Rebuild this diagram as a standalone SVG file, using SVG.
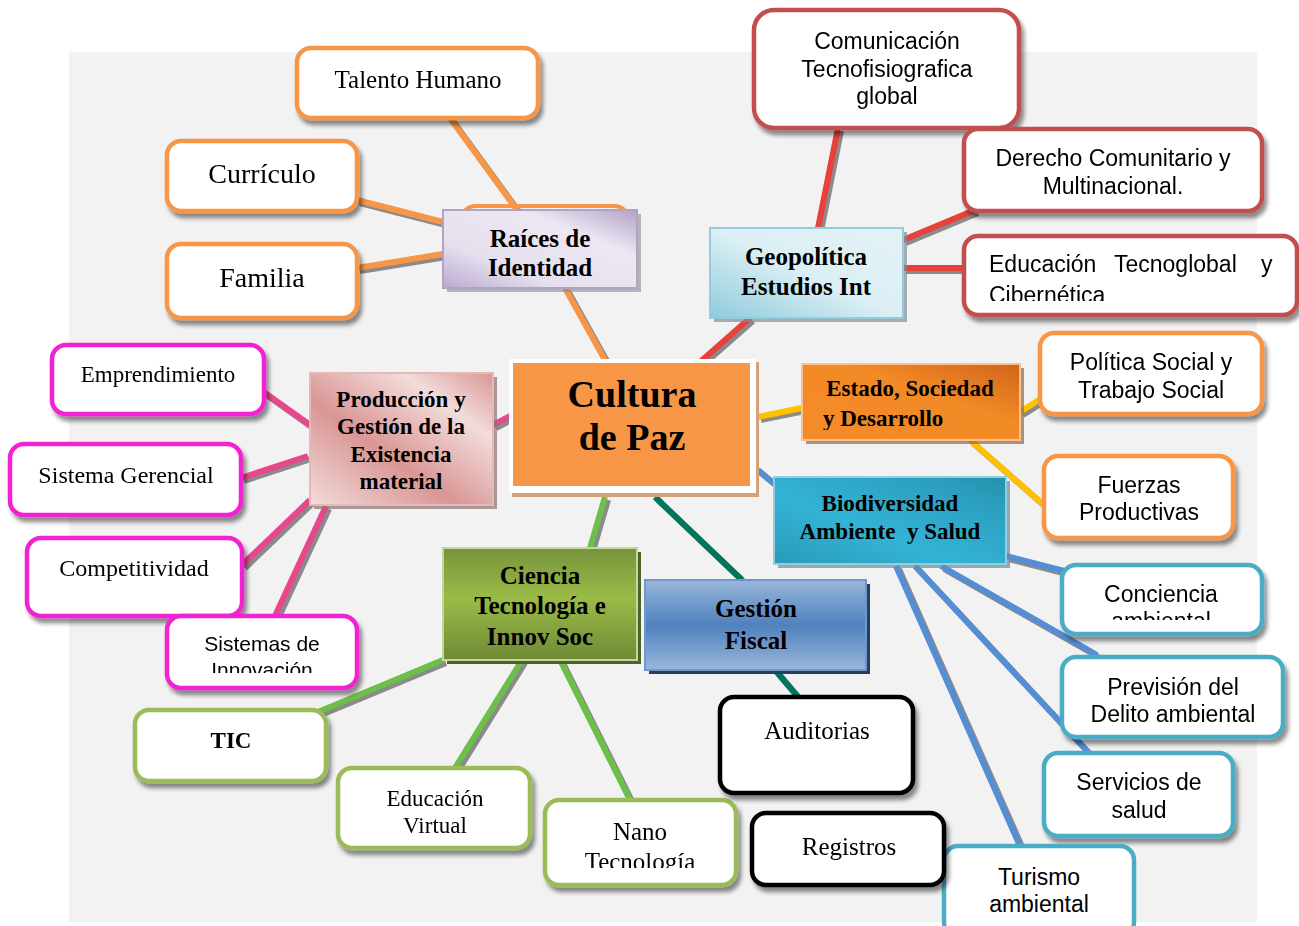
<svg xmlns="http://www.w3.org/2000/svg" width="1299" height="926" viewBox="0 0 1299 926">
<style>
.sh{stroke:#8a8a8a;stroke-width:6;fill:none;stroke-linecap:butt}
.ln{stroke-width:6;fill:none;stroke-linecap:butt}
.o{stroke:#F79646}.r{stroke:#E8403A}.y{stroke:#FFC000}.b{stroke:#558ED5}.p{stroke:#E9478C}.g{stroke:#6CC04A}.t{stroke:#00765A}
.box{fill:#fff;stroke-width:4.5}
.bo{stroke:#F79646}.br{stroke:#C0504D}.bm{stroke:#F224D2}.bg{stroke:#9BBB59}.bk{stroke:#000}.bc{stroke:#4BACC6}
.serif{font-family:"Liberation Serif","Times New Roman",serif;fill:#000}
.sans{font-family:"Liberation Sans",Arial,sans-serif;fill:#000}
.bold{font-weight:bold}
</style>
<defs>
<filter id="ds" x="-10%" y="-10%" width="125%" height="130%">
<feDropShadow dx="3" dy="5" stdDeviation="2" flood-color="#000" flood-opacity="0.45"/>
</filter>
<linearGradient id="gLav" x1="0" y1="1" x2="1" y2="0"><stop offset="0" stop-color="#b9a9cf"/><stop offset="0.3" stop-color="#e6e0ee"/><stop offset="0.7" stop-color="#ece7f2"/><stop offset="1" stop-color="#b3a2c7"/></linearGradient>
<linearGradient id="gGeo" x1="0" y1="1" x2="1" y2="0"><stop offset="0" stop-color="#8ecbdb"/><stop offset="0.5" stop-color="#dbeff5"/><stop offset="1" stop-color="#e4f2f6"/></linearGradient>
<linearGradient id="gEst" x1="0" y1="1" x2="1" y2="0"><stop offset="0" stop-color="#f58a2a"/><stop offset="0.6" stop-color="#f28a26"/><stop offset="1" stop-color="#d0641a"/></linearGradient>
<linearGradient id="gBio" x1="0" y1="1" x2="1" y2="0"><stop offset="0" stop-color="#2a9ab8"/><stop offset="0.4" stop-color="#33b3d6"/><stop offset="0.8" stop-color="#2c9fbf"/><stop offset="1" stop-color="#2590ae"/></linearGradient>
<linearGradient id="gProd" x1="0" y1="1" x2="1" y2="0"><stop offset="0" stop-color="#f2dcdb"/><stop offset="0.4" stop-color="#d99694"/><stop offset="0.75" stop-color="#f2dcdb"/><stop offset="1" stop-color="#d99694"/></linearGradient>
<linearGradient id="gCie" x1="0" y1="0" x2="0" y2="1"><stop offset="0" stop-color="#77933c"/><stop offset="0.45" stop-color="#9bbb47"/><stop offset="1" stop-color="#6f8a35"/></linearGradient>
<linearGradient id="gGes" x1="0" y1="0" x2="0" y2="1"><stop offset="0" stop-color="#9ab7dc"/><stop offset="0.5" stop-color="#4f81bd"/><stop offset="1" stop-color="#9ab7dc"/></linearGradient>
<clipPath id="cEdu"><rect x="966" y="238" width="329" height="63"/></clipPath>
<clipPath id="cEst"><rect x="802" y="364" width="218" height="66"/></clipPath>
<clipPath id="cPol"><rect x="1040" y="333" width="222" height="70"/></clipPath>
<clipPath id="cCon"><rect x="1062" y="565" width="200" height="55"/></clipPath>
<clipPath id="cSis"><rect x="167" y="616" width="190" height="57"/></clipPath>
<clipPath id="cEdv"><rect x="338" y="768" width="192" height="68"/></clipPath>
<clipPath id="cNan"><rect x="545" y="800" width="191" height="68"/></clipPath>
</defs>

<rect x="69" y="52" width="1188" height="870" fill="#f2f2f2"/>

<g id="connectors">
<g transform="translate(3,3)">
<path class="sh" d="M450 118L517 210M357 200L443 222M357 268L443 254M565 288L605 360"/>
<path class="sh" d="M838 128L818 228M903 240L975 210M903 268L966 268M750 318L700 362"/>
<path class="sh" d="M758 417L802 408M1020 412L1042 398M970 440L1044 505"/>
<path class="sh" d="M758 470L776 485M1006 556L1068 572M941 566L1097 655M915 566L1088 752M896 566L1020 846"/>
<path class="sh" d="M493 425L512 415M265 393L310 425M241 478L308 456M242 565L310 500M275 616L326 506"/>
<path class="sh" d="M590 548L605 497M443 660L318 712M522 660L455 768M560 660L630 800"/>
<path class="sh" d="M655 497L742 580M775 670L798 697"/>
</g>
<path class="ln o" d="M450 118L517 210M357 200L443 222M357 268L443 254M565 288L605 360"/>
<path class="ln r" d="M838 128L818 228M903 240L975 210M903 268L966 268M750 318L700 362"/>
<path class="ln y" d="M758 417L802 408M1020 412L1042 398M970 440L1044 505"/>
<path class="ln b" d="M758 470L776 485M1006 556L1068 572M941 566L1097 655M915 566L1088 752M896 566L1020 846"/>
<path class="ln p" d="M493 425L512 415M265 393L310 425M241 478L308 456M242 565L310 500M275 616L326 506"/>
<path class="ln g" d="M590 548L605 497M443 660L318 712M522 660L455 768M560 660L630 800"/>
<path class="ln t" d="M655 497L742 580M775 670L798 697"/>
</g>

<g id="n-talento" filter="url(#ds)"><rect class="box bo" x="297" y="48" width="241" height="70" rx="14"/><text class="serif" x="418" y="88" font-size="25" text-anchor="middle">Talento Humano</text></g>
<g id="n-curriculo" filter="url(#ds)"><rect class="box bo" x="167" y="141" width="190" height="70" rx="14"/><text class="serif" x="262" y="183" font-size="28" text-anchor="middle">Currículo</text></g>
<g id="n-familia" filter="url(#ds)"><rect class="box bo" x="167" y="244" width="190" height="74" rx="14"/><text class="serif" x="262" y="287" font-size="28" text-anchor="middle">Familia</text></g>

<g id="n-raices">
<rect x="460" y="206" width="170" height="70" rx="16" fill="none" stroke="#F79646" stroke-width="4"/>
<rect x="447" y="214" width="194" height="78" fill="#8a8a8a" opacity="0.6"/>
<rect x="443" y="210" width="194" height="78" fill="url(#gLav)" stroke="#b3a2c7" stroke-width="2"/>
<text class="serif bold" x="540" y="247" font-size="25" text-anchor="middle">Raíces de</text>
<text class="serif bold" x="540" y="276" font-size="25" text-anchor="middle">Identidad</text>
</g>

<g id="n-comunicacion" filter="url(#ds)"><rect class="box br" x="754" y="10" width="265" height="118" rx="20"/>
<text class="sans" x="887" y="49" font-size="23" text-anchor="middle">Comunicación</text>
<text class="sans" x="887" y="77" font-size="23" text-anchor="middle">Tecnofisiografica</text>
<text class="sans" x="887" y="104" font-size="23" text-anchor="middle">global</text></g>
<g id="n-derecho" filter="url(#ds)"><rect class="box br" x="964" y="129" width="298" height="82" rx="14"/>
<text class="sans" x="1113" y="166" font-size="23" text-anchor="middle">Derecho Comunitario y</text>
<text class="sans" x="1113" y="194" font-size="23" text-anchor="middle">Multinacional.</text></g>
<g id="n-educacion-tec" filter="url(#ds)"><rect class="box br" x="964" y="236" width="333" height="79" rx="14"/>
<g clip-path="url(#cEdu)"><text class="sans" x="989" y="272" font-size="23">Educación<tspan x="1114">Tecnoglobal</tspan><tspan x="1261">y</tspan></text>
<text class="sans" x="989" y="303" font-size="23">Cibernética</text></g></g>

<g id="n-geopolitica">
<rect x="714" y="232" width="193" height="90" fill="#7f8f94" opacity="0.7"/>
<rect x="710" y="228" width="193" height="90" fill="url(#gGeo)" stroke="#93cddd" stroke-width="2"/>
<text class="serif bold" x="806" y="265" font-size="25" text-anchor="middle">Geopolítica</text>
<text class="serif bold" x="806" y="295" font-size="25" text-anchor="middle">Estudios Int</text>
</g>

<g id="n-cultura">
<rect x="512" y="362" width="247" height="135" fill="#d3a27a"/>
<rect x="509" y="359" width="247" height="134" fill="#fff"/>
<rect x="513" y="363" width="237" height="123" fill="#F79646"/>
<text class="serif bold" x="632" y="407" font-size="38" text-anchor="middle">Cultura</text>
<text class="serif bold" x="632" y="450" font-size="38" text-anchor="middle">de Paz</text>
</g>

<g id="n-estado">
<rect x="806" y="368" width="218" height="76" fill="#8a6b4f" opacity="0.7"/>
<rect x="802" y="364" width="218" height="76" fill="url(#gEst)" stroke="#fac090" stroke-width="2"/>
<g clip-path="url(#cEst)"><text class="serif bold" x="910" y="396" font-size="23" text-anchor="middle">Estado, Sociedad</text>
<text class="serif bold" x="823" y="426" font-size="23">y Desarrollo</text></g>
</g>
<g id="n-politica" filter="url(#ds)"><rect class="box bo" x="1040" y="333" width="222" height="81" rx="14"/>
<g clip-path="url(#cPol)"><text class="sans" x="1151" y="370" font-size="23" text-anchor="middle">Política Social y</text>
<text class="sans" x="1151" y="398" font-size="23" text-anchor="middle">Trabajo Social</text></g></g>
<g id="n-fuerzas" filter="url(#ds)"><rect class="box bo" x="1044" y="456" width="189" height="82" rx="14"/>
<text class="sans" x="1139" y="493" font-size="23" text-anchor="middle">Fuerzas</text>
<text class="sans" x="1139" y="520" font-size="23" text-anchor="middle">Productivas</text></g>

<g id="n-biodiversidad">
<rect x="778" y="481" width="232" height="87" fill="#6f8a99" opacity="0.7"/>
<rect x="774" y="477" width="232" height="87" fill="url(#gBio)" stroke="#93cddd" stroke-width="2"/>
<text class="serif bold" x="890" y="511" font-size="23" text-anchor="middle">Biodiversidad</text>
<text class="serif bold" x="890" y="539" font-size="23" text-anchor="middle" xml:space="preserve">Ambiente  y Salud</text>
</g>
<g id="n-conciencia" filter="url(#ds)"><rect class="box bc" x="1062" y="565" width="200" height="69" rx="14"/>
<g clip-path="url(#cCon)"><text class="sans" x="1161" y="602" font-size="23" text-anchor="middle" fill="#222">Conciencia</text>
<text class="sans" x="1161" y="629" font-size="23" text-anchor="middle">ambiental</text></g></g>
<g id="n-prevision" filter="url(#ds)"><rect class="box bc" x="1062" y="657" width="221" height="80" rx="14"/>
<text class="sans" x="1173" y="695" font-size="23" text-anchor="middle">Previsión del</text>
<text class="sans" x="1173" y="722" font-size="23" text-anchor="middle">Delito ambiental</text></g>
<g id="n-servicios" filter="url(#ds)"><rect class="box bc" x="1044" y="753" width="189" height="83" rx="14"/>
<text class="sans" x="1139" y="790" font-size="23" text-anchor="middle">Servicios de</text>
<text class="sans" x="1139" y="818" font-size="23" text-anchor="middle">salud</text></g>
<g id="n-turismo"><rect class="box bc" x="944" y="846" width="190" height="90" rx="14"/>
<text class="sans" x="1039" y="885" font-size="23" text-anchor="middle">Turismo</text>
<text class="sans" x="1039" y="912" font-size="23" text-anchor="middle">ambiental</text></g>

<g id="n-produccion">
<rect x="314" y="377" width="183" height="132" fill="#8f7070" opacity="0.7"/>
<rect x="310" y="373" width="183" height="132" fill="url(#gProd)" stroke="#e6b9b8" stroke-width="2"/>
<text class="serif bold" x="401" y="407" font-size="23" text-anchor="middle">Producción y</text>
<text class="serif bold" x="401" y="434" font-size="23" text-anchor="middle">Gestión de la</text>
<text class="serif bold" x="401" y="462" font-size="23" text-anchor="middle">Existencia</text>
<text class="serif bold" x="401" y="489" font-size="23" text-anchor="middle">material</text>
</g>
<g id="n-emprendimiento" filter="url(#ds)"><rect class="box bm" x="52" y="345" width="212" height="69" rx="14"/>
<text class="serif" x="158" y="382" font-size="23" text-anchor="middle">Emprendimiento</text></g>
<g id="n-sistema-gerencial" filter="url(#ds)"><rect class="box bm" x="10" y="444" width="231" height="71" rx="14"/>
<text class="serif" x="126" y="483" font-size="24" text-anchor="middle">Sistema Gerencial</text></g>
<g id="n-competitividad" filter="url(#ds)"><rect class="box bm" x="27" y="538" width="215" height="78" rx="14"/>
<text class="serif" x="134" y="576" font-size="24" text-anchor="middle">Competitividad</text></g>
<g id="n-sistemas-innovacion" filter="url(#ds)"><rect class="box bm" x="167" y="616" width="190" height="72" rx="14"/>
<g clip-path="url(#cSis)"><text class="sans" x="262" y="651" font-size="21" text-anchor="middle">Sistemas de</text>
<text class="sans" x="262" y="677" font-size="21" text-anchor="middle">Innovación</text></g></g>

<g id="n-ciencia">
<rect x="447" y="552" width="194" height="112" fill="#4f6228"/>
<rect x="443" y="548" width="194" height="112" fill="url(#gCie)" stroke="#c3d69b" stroke-width="2"/>
<text class="serif bold" x="540" y="584" font-size="25" text-anchor="middle">Ciencia</text>
<text class="serif bold" x="540" y="614" font-size="25" text-anchor="middle">Tecnología e</text>
<text class="serif bold" x="540" y="645" font-size="25" text-anchor="middle">Innov Soc</text>
</g>
<g id="n-gestion">
<rect x="649" y="584" width="221" height="90" fill="#243f60"/>
<rect x="645" y="580" width="221" height="90" fill="url(#gGes)" stroke="#6f97cc" stroke-width="2"/>
<text class="serif bold" x="756" y="617" font-size="25" text-anchor="middle">Gestión</text>
<text class="serif bold" x="756" y="649" font-size="25" text-anchor="middle">Fiscal</text>
</g>
<g id="n-tic" filter="url(#ds)"><rect class="box bg" x="135" y="710" width="191" height="71" rx="14"/>
<text class="serif bold" x="231" y="748" font-size="23" text-anchor="middle">TIC</text></g>
<g id="n-educacion-virtual" filter="url(#ds)"><rect class="box bg" x="338" y="768" width="192" height="80" rx="14"/>
<g clip-path="url(#cEdv)"><text class="serif" x="435" y="806" font-size="23" text-anchor="middle">Educación</text>
<text class="serif" x="435" y="833" font-size="23" text-anchor="middle">Virtual</text></g></g>
<g id="n-nano" filter="url(#ds)"><rect class="box bg" x="545" y="800" width="191" height="85" rx="14"/>
<g clip-path="url(#cNan)"><text class="serif" x="640" y="840" font-size="25" text-anchor="middle">Nano</text>
<text class="serif" x="640" y="870" font-size="25" text-anchor="middle">Tecnología</text></g></g>
<g id="n-auditorias" filter="url(#ds)"><rect class="box bk" x="720" y="697" width="193" height="96" rx="14"/>
<text class="serif" x="817" y="739" font-size="25" text-anchor="middle">Auditorias</text></g>
<g id="n-registros" filter="url(#ds)"><rect class="box bk" x="752" y="813" width="192" height="72" rx="14"/>
<text class="serif" x="849" y="855" font-size="25" text-anchor="middle">Registros</text></g>
</svg>
